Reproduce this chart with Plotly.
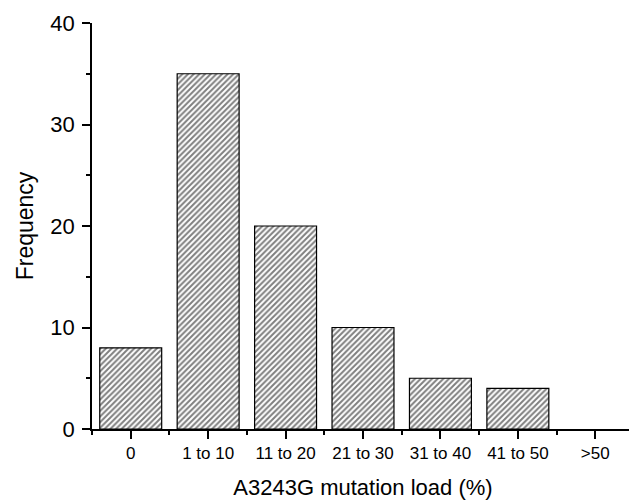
import plotly.graph_objects as go

categories = ["0", "1 to 10", "11 to 20", "21 to 30", "31 to 40", "41 to 50", ">50"]
frequency = [8, 35, 20, 10, 5, 4, 0]
y_ticks = [0, 10, 20, 30, 40]

x_pos = list(range(len(categories)))
# zero-height bars draw no visible outline in the reference
outline_widths = [1.2 if v > 0 else 0 for v in frequency]

fig = go.Figure()
fig.add_trace(go.Bar(
    x=x_pos,
    y=frequency,
    width=0.8,
    marker=dict(
        color="white",
        line=dict(color="black", width=outline_widths),
        pattern=dict(shape="/", fgcolor="black", bgcolor="white", size=4, solidity=0.5),
    ),
    showlegend=False,
))

font = "Liberation Sans, Arial, Helvetica, sans-serif"
# the page body has an 8px default margin, so the figure is drawn 8px in from top-left
fig.update_layout(
    width=629, height=492,
    margin=dict(l=84, r=3, t=15, b=71),
    plot_bgcolor="white", paper_bgcolor="white",
    font=dict(family=font, color="black"),
    bargap=0.2,
)
fig.update_xaxes(
    range=[-0.5, 6.5],
    tickvals=x_pos, ticktext=categories,
    tickfont=dict(size=17),
    ticks="outside", ticklen=8, tickwidth=1.5, tickcolor="black",
    minor=dict(tickvals=[i - 0.5 for i in range(len(categories) + 1)], ticks="outside", ticklen=4, tickwidth=1.5, tickcolor="black"),
    showline=True, linecolor="black", linewidth=1.5,
    showgrid=False, zeroline=False,
    title=dict(text="A3243G mutation load (%)", font=dict(size=22), standoff=22),
    automargin=False,
)
fig.update_yaxes(
    range=[0, 40],
    tickvals=y_ticks,
    tickfont=dict(size=22),
    ticklabelstandoff=3,
    ticks="outside", ticklen=8, tickwidth=1.5, tickcolor="black",
    minor=dict(tickvals=[5, 15, 25, 35], ticks="outside", ticklen=4, tickwidth=1.5, tickcolor="black"),
    showline=True, linecolor="black", linewidth=1.5,
    showgrid=False, zeroline=False,
    title=dict(text="Frequency", font=dict(size=23), standoff=10),
    automargin=False,
)
fig.write_html("out.html")
